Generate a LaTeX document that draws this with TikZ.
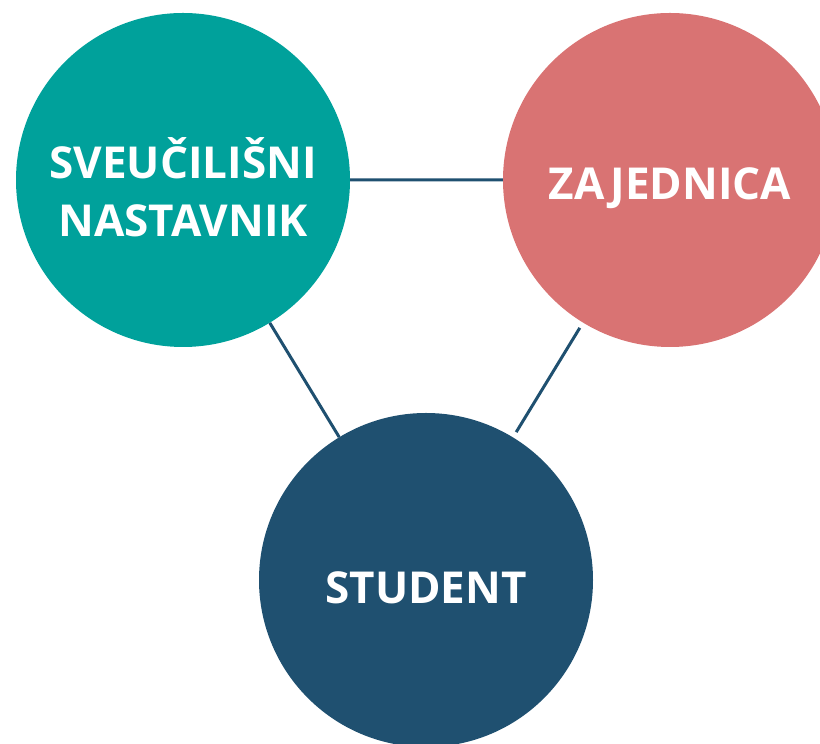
\documentclass[tikz,border=0pt]{standalone}
\usepackage{fontspec}
\setmainfont{Open Sans}
\usepackage{tikz}
\definecolor{tirkiz}{HTML}{00A19B}
\definecolor{ruza}{HTML}{D97373}
\definecolor{plava}{HTML}{1F5070}
\tikzset{krug/.style={circle,minimum size=334pt,inner sep=0pt},
  tekst/.style={text=white,align=center,font=\fontsize{44}{58}\selectfont\bfseries}}

\begin{document}
\begin{tikzpicture}[x=1pt,y=1pt]
      \useasboundingbox (0,0) rectangle (820,744);

      \node (nastavnik) at (183,564) [krug,fill=tirkiz] {};
      \node (zajednica) at (670,564) [krug,fill=ruza] {};
      \node (student) at (426,164) [krug,fill=plava] {};

      \node (tn) at (183,557) [tekst] {SVEUČILIŠNI\\NASTAVNIK};
      \node (tz) at (670,556) [tekst] {ZAJEDNICA};
      \node (ts) at (426,156) [tekst] {STUDENT};

      \draw[plava, line width=3pt, shorten <=6pt, shorten >=6pt]
      (nastavnik) -- (zajednica)
      (nastavnik) -- (student)
      (zajednica) -- (student);

\end{tikzpicture}
\end{document}
